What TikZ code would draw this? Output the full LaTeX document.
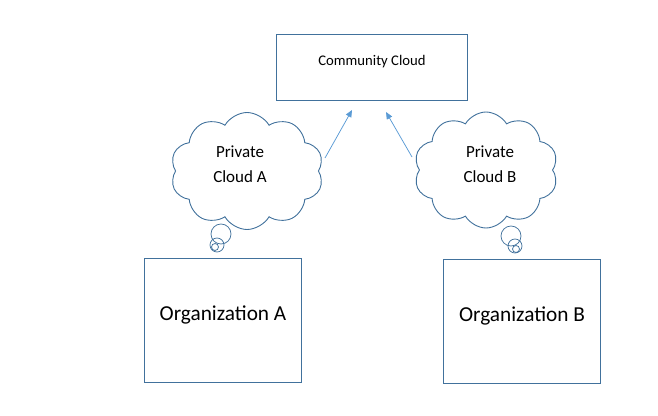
\documentclass[tikz,border=0pt]{standalone}
\usepackage{fontspec}
\setmainfont{Carlito}
\usetikzlibrary{arrows.meta, shapes.symbols}

\definecolor{boxblue}{HTML}{41719C}
\definecolor{arrowblue}{HTML}{5B9BD5}

\begin{document}
\begin{tikzpicture}[
  x=1pt, y=-1pt,
  box/.style={draw=boxblue, line width=0.9pt, align=center, inner sep=0pt},
  community/.style={box, minimum width=191pt, minimum height=66pt,
    text height=10pt, text depth=13pt, font=\fontsize{14.7}{18}\selectfont},
  org/.style={box, minimum width=157pt, minimum height=124pt,
    text height=14pt, text depth=14pt, font=\fontsize{21.3}{26}\selectfont},
  thought/.style={cloud, cloud puffs=10, cloud puff arc=120, draw=boxblue,
    line width=0.9pt, inner sep=0pt, cloud ignores aspect},
  cloudtext/.style={align=center, font=\fontsize{17}{25}\selectfont},
  bubble/.style={circle, draw=boxblue, line width=0.75pt, inner sep=0pt},
  arr/.style={-{Triangle[length=7pt, width=6pt]}, draw=arrowblue, line width=0.75pt},
]
  \useasboundingbox (0,0) rectangle (658,415);

  % Top box
  \node[community] (cc) at (372, 67) {Community Cloud};

  % Organizations
  \node[org] (orga) at (223, 320) {Organization A};
  \node[org] (orgb) at (522, 321) {Organization B};

  % Private clouds
  \node[thought, minimum width=153pt, minimum height=117pt] (clouda) at (247, 171) {};
  \node[cloudtext] (texta) at (240, 164) {Private\\Cloud A};
  \node[thought, minimum width=144pt, minimum height=116pt] (cloudb) at (486, 170) {};
  \node[cloudtext] (textb) at (490, 164) {Private\\Cloud B};

  % Thought bubbles
  \node[bubble, minimum size=20pt] (bba1) at (221, 234) {};
  \node[bubble, minimum size=14pt] (bba2) at (217, 245) {};
  \node[bubble, minimum size=7pt] (bba3) at (215, 247) {};
  \node[bubble, minimum size=20pt] (bbb1) at (511, 236) {};
  \node[bubble, minimum size=14pt] (bbb2) at (515, 246) {};
  \node[bubble, minimum size=7pt] (bbb3) at (516, 249) {};

  % Arrows up to the community cloud
  \coordinate (fromA) at (325, 158);
  \coordinate (toA) at (352, 110);
  \coordinate (fromB) at (412, 157);
  \coordinate (toB) at (386, 112);
  \draw[arr] (fromA) -- (toA);
  \draw[arr] (fromB) -- (toB);

\end{tikzpicture}
\end{document}
